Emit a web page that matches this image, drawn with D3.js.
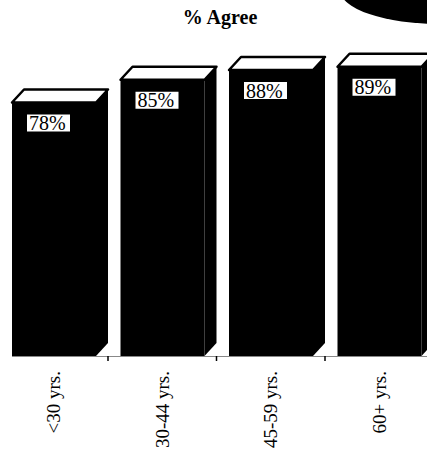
<!DOCTYPE html>
<html><head><meta charset="utf-8">
<script src="https://cdn.jsdelivr.net/npm/d3@7"></script>
<style>html,body{margin:0;padding:0;background:#fff;}svg{display:block;}</style>
</head><body>
<svg id="c" width="427" height="450"></svg>
<script>
const categories = ["<30 yrs.", "30-44 yrs.", "45-59 yrs.", "60+ yrs."];
const values = [78, 85, 88, 89];
const valueLabels = ["78%", "85%", "88%", "89%"];
const title = "% Agree";

const W = 427, H = 450;
const svg = d3.select("#c");
const serif = "'Liberation Serif','Times New Roman',serif";

const base = 356;
const x = d3.scaleBand().domain(categories).range([12, 446]).paddingInner(0);
const y = d3.scaleLinear().domain([0, 100]).range([base, 31]);
const frontW = 84, dx = 12, dy = 13;

// decorative dark blob top right
svg.append("ellipse").attr("cx", 440).attr("cy", -10).attr("rx", 100).attr("ry", 34).attr("fill", "#000");

// title
svg.append("text").attr("x", 220).attr("y", 24).attr("text-anchor", "middle")
  .attr("font-family", serif).attr("font-weight", "bold").attr("font-size", 20).text(title);

// baseline
svg.append("line").attr("x1", 12).attr("x2", W).attr("y1", base + 0.5).attr("y2", base + 0.5)
  .attr("stroke", "#888").attr("stroke-width", 1);

const g = svg.append("g");
const bars = g.selectAll("g.bar").data(categories).enter().append("g").attr("class", "bar");

// side face
bars.append("path").attr("fill", "#000").attr("d", (d, i) => {
  const x0 = x(d) + frontW, yt = y(values[i]);
  return `M${x0},${yt}L${x0 + dx},${yt - dy}L${x0 + dx},${base - dy}L${x0},${base}Z`;
});
// front face
bars.append("rect").attr("fill", "#000")
  .attr("x", d => x(d)).attr("y", (d, i) => y(values[i]))
  .attr("width", frontW).attr("height", (d, i) => base - y(values[i]));
// top face
bars.append("path").attr("fill", "#fff").attr("stroke", "#000").attr("stroke-width", 2.5)
  .attr("stroke-linejoin", "round")
  .attr("d", (d, i) => {
    const x0 = x(d), yt = y(values[i]);
    return `M${x0},${yt}L${x0 + dx},${yt - dy}L${x0 + frontW + dx},${yt - dy}L${x0 + frontW},${yt}Z`;
  });
// value label boxes
bars.append("rect").attr("fill", "#fff")
  .attr("x", d => x(d) + 15).attr("y", (d, i) => y(values[i]) + 12)
  .attr("width", 43).attr("height", 17);
bars.append("text").attr("font-family", serif).attr("font-size", 20)
  .attr("x", d => x(d) + 17).attr("y", (d, i) => y(values[i]) + 27.5)
  .text((d, i) => valueLabels[i]);

// ticks at band boundaries
g.selectAll("line.tick").data(categories.slice(0, 3)).enter().append("line")
  .attr("x1", d => x(d) + frontW + dx).attr("x2", d => x(d) + frontW + dx)
  .attr("y1", base).attr("y2", base + 5).attr("stroke", "#000").attr("stroke-width", 1.5);

// category labels (rotated)
g.selectAll("text.cat").data(categories).enter().append("text")
  .attr("font-family", serif).attr("font-size", 19).attr("text-anchor", "end")
  .attr("transform", d => `translate(${x(d) + 48},371) rotate(-90)`)
  .text(d => d);
</script>
</body></html>
